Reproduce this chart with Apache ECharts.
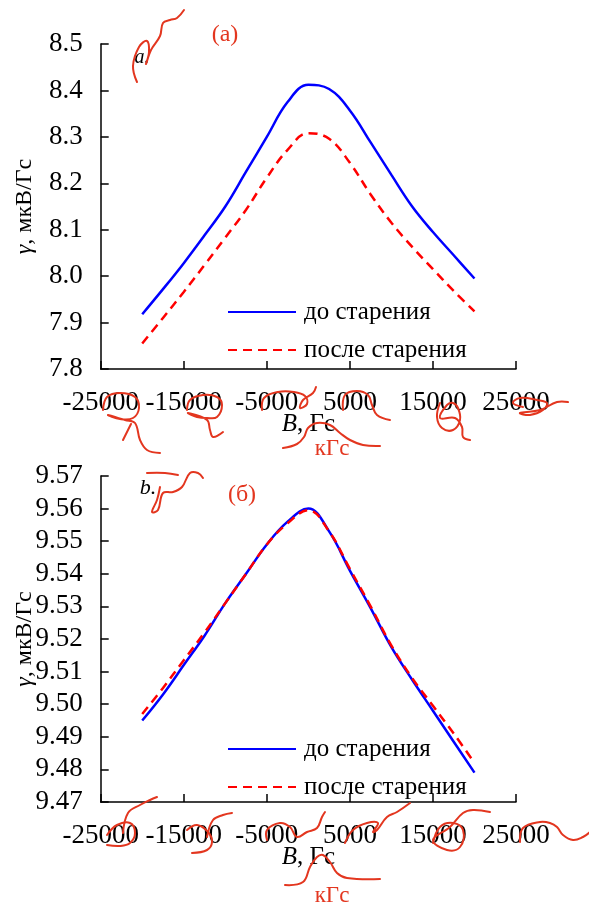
<!DOCTYPE html>
<html>
<head>
<meta charset="utf-8">
<script src="https://cdn.jsdelivr.net/npm/echarts@6/dist/echarts.min.js"></script>
<style>
  html, body { margin: 0; padding: 0; background: #fff; }
  #chart { width: 589px; height: 912px; }
</style>
</head>
<body>
<div id="chart"></div>
<script>
// Magnetic field, Gs
const fieldB = [-20000, -17500, -15000, -12500, -10000, -7500, -5000, -2500, 0,
                2500, 5000, 7500, 10000, 12500, 15000, 17500, 20000];

// Panel (a): gamma, µV/Gs
const gammaA_before = [7.918, 7.972, 8.028, 8.088, 8.150, 8.225, 8.300, 8.375, 8.412,
                       8.403, 8.357, 8.288, 8.218, 8.150, 8.095, 8.045, 7.995];
const gammaA_after  = [7.855, 7.910, 7.966, 8.024, 8.083, 8.143, 8.212, 8.272, 8.308,
                       8.296, 8.244, 8.176, 8.115, 8.063, 8.015, 7.968, 7.924];

// Panel (b): gamma, µV/Gs
const gammaB_before = [9.495, 9.503, 9.512, 9.521, 9.531, 9.540, 9.549, 9.556, 9.560,
                       9.553, 9.541, 9.5295, 9.5175, 9.5075, 9.498, 9.4885, 9.479];
const gammaB_after  = [9.497, 9.505, 9.5135, 9.522, 9.531, 9.540, 9.549, 9.5555, 9.5595,
                       9.553, 9.5415, 9.530, 9.518, 9.508, 9.4995, 9.491, 9.482];

const seriesNames = ['до старения', 'после старения'];
const xTicks = [-25000, 25000, 10000];      // min, max, step
const yTicksA = [7.8, 8.5, 0.1];
const yTicksB = [9.47, 9.57, 0.01];

const FONT = 'Liberation Serif';
const RED = '#e3361f';

function pairs(xs, ys) { return xs.map((x, i) => [x, ys[i]]); }

function xAxisDef(gridIndex) {
  return {
    type: 'value', gridIndex,
    min: xTicks[0], max: xTicks[1], interval: xTicks[2],
    name: '{i|B}, Гс', nameLocation: 'middle', nameGap: 43, nameMoveOverlap: false,
    nameTextStyle: {
      fontFamily: FONT, fontSize: 25, color: '#000',
      rich: { i: { fontFamily: FONT, fontSize: 25, fontStyle: 'italic', color: '#000' } }
    },
    axisLine: { show: true, onZero: false, lineStyle: { color: '#000', width: 1.5 } },
    axisTick: { show: true, inside: true, length: 8, lineStyle: { color: '#000', width: 1.5 } },
    axisLabel: { fontFamily: FONT, fontSize: 27, color: '#000', margin: 20,
                 formatter: v => String(v) },
    splitLine: { show: false }
  };
}

function yAxisDef(gridIndex, t, digits) {
  return {
    type: 'value', gridIndex,
    min: t[0], max: t[1], interval: t[2],
    name: '{i|γ}, мкВ/Гс', nameLocation: 'middle', nameGap: 64, nameRotate: 90,
    nameMoveOverlap: false,
    nameTextStyle: {
      fontFamily: FONT, fontSize: 24, color: '#000',
      rich: { i: { fontFamily: FONT, fontSize: 24, fontStyle: 'italic', color: '#000' } }
    },
    axisLine: { show: true, onZero: false, lineStyle: { color: '#000', width: 1.5 } },
    axisTick: { show: true, inside: true, length: 8, lineStyle: { color: '#000', width: 1.5 } },
    axisLabel: {
      fontFamily: FONT, fontSize: 27, color: '#000', margin: 18,
      formatter: v => Number(v).toFixed(digits)
    },
    splitLine: { show: false }
  };
}

function lineSeries(name, idx, data, color, dashed, z) {
  return {
    name, type: 'line', xAxisIndex: idx, yAxisIndex: idx,
    data, smooth: 0.4, symbol: 'none', z,
    lineStyle: { color, width: 2.5, type: dashed ? [9, 6] : 'solid' },
    itemStyle: { color }
  };
}

function legendDef(top) {
  return {
    orient: 'vertical', left: 222, top,
    itemWidth: 68, itemHeight: 14, itemGap: 10,
    selectedMode: false,
    itemStyle: { color: 'rgba(0,0,0,0)', borderWidth: 0, opacity: 0 },
    data: seriesNames,
    textStyle: { fontFamily: FONT, fontSize: 25, color: '#000', lineHeight: 28, padding: [0, 0, 0, 3] }
  };
}

// Red hand-drawn marks around the figure (absolute pixel paths)
const scribbles = [
  [[137,82],[133,66],[139,47],[147,41],[149,52],[146,64],[151,50],[160,36],[163,23],[170,20],[177,18],[184,10]],
  [[103,410],[107,397],[120,393],[135,397],[139,408],[133,418],[120,419],[108,415],[125,420],[135,423],[140,440],[147,450],[160,453]],
  [[123,440],[128,430],[131,424]],
  [[187,410],[190,400],[203,395],[217,397],[222,405],[217,417],[207,418],[197,417],[188,413],[207,420],[210,430],[213,437],[223,432]],
  [[262,410],[264,398],[278,392],[294,392],[305,396],[307,404],[300,408],[303,400],[313,393],[316,387]],
  [[343,410],[345,395],[357,391],[368,395],[372,405],[377,415],[390,420]],
  [[440,403],[437,417],[442,428],[453,430],[460,420],[458,408],[453,403],[447,405],[440,418],[455,418],[462,427],[463,437],[470,440]],
  [[523,407],[513,403],[520,398],[537,400],[547,403],[543,410],[530,415],[520,413],[540,410],[557,402],[568,402]],
  [[283,448],[297,444],[304,437],[308,428],[317,423],[330,425],[340,433],[350,440],[363,445],[380,446]],

  [[147,473],[165,473],[178,475]],
  [[160,487],[157,500],[152,512],[158,510],[163,493],[173,492],[182,487],[190,473],[198,473],[203,478]],
  [[107,835],[117,825],[130,823],[135,833],[130,843],[120,846],[107,845]],
  [[123,833],[128,813],[140,805],[150,800],[157,797]],
  [[187,830],[197,825],[208,832],[212,842],[207,850],[192,853]],
  [[207,837],[213,820],[223,815],[232,813]],
  [[267,840],[267,830],[280,823],[290,827],[297,837],[307,832],[317,828],[322,817],[325,812]],
  [[345,843],[353,830],[367,823],[378,823],[373,832],[377,830],[387,817],[397,812],[410,803]],
  [[433,843],[440,827],[453,823],[463,830],[460,847],[447,850],[433,840],[450,827],[463,813],[473,810],[490,812]],
  [[520,842],[523,828],[540,822],[550,823],[557,827],[563,835],[573,840],[583,837],[590,832]],
  [[285,885],[303,882],[310,867],[317,857],[323,855],[330,862],[337,873],[347,878],[380,879]]
];

function textEl(x, y, text, size, color, italic) {
  return {
    type: 'text', x, y, z: 50,
    style: {
      text, fill: color, fontFamily: FONT, fontSize: size,
      fontStyle: italic ? 'italic' : 'normal',
      align: 'center', verticalAlign: 'middle'
    }
  };
}

const graphics = [
  textEl(225, 35, '(a)', 24, RED, false),
  textEl(242, 495, '(б)', 24, RED, false),
  textEl(332, 449, 'кГс', 23, RED, false),
  textEl(332, 896, 'кГс', 23, RED, false),
  textEl(142, 58, 'a.', 20, '#000', true),
  textEl(148, 488, 'b.', 22, '#000', true)
].concat(scribbles.map(pts => ({
  type: 'polyline', z: 60,
  shape: { points: pts, smooth: 0.4 },
  style: { stroke: RED, lineWidth: 2, fill: null, lineCap: 'round', lineJoin: 'round' }
})));

const chart = echarts.init(document.getElementById('chart'), null, { renderer: 'canvas' });
chart.setOption({
  animation: false,
  backgroundColor: '#fff',
  grid: [
    { left: 100.7, right: 73, top: 44, height: 325, containLabel: false, outerBoundsMode: 'none' },
    { left: 100.7, right: 73, top: 476, height: 326, containLabel: false, outerBoundsMode: 'none' }
  ],
  xAxis: [xAxisDef(0), xAxisDef(1)],
  yAxis: [yAxisDef(0, yTicksA, 1), yAxisDef(1, yTicksB, 2)],
  legend: [legendDef(293), legendDef(730)],
  series: [
    lineSeries(seriesNames[0], 0, pairs(fieldB, gammaA_before), '#0000ff', false, 2),
    lineSeries(seriesNames[1], 0, pairs(fieldB, gammaA_after), '#ff0000', true, 3),
    lineSeries(seriesNames[0], 1, pairs(fieldB, gammaB_before), '#0000ff', false, 2),
    lineSeries(seriesNames[1], 1, pairs(fieldB, gammaB_after), '#ff0000', true, 3)
  ],
  graphic: graphics
});
</script>
</body>
</html>
